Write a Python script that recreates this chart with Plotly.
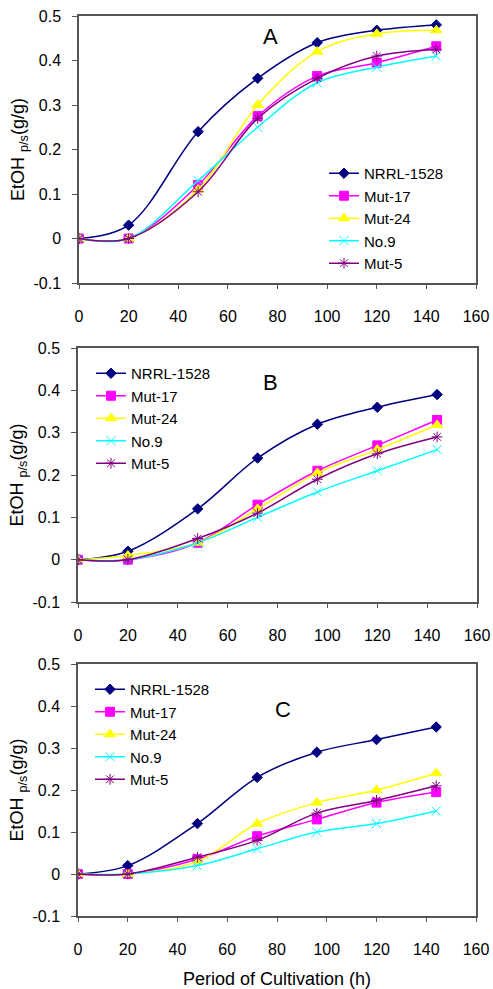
import plotly.graph_objects as go

hours = [0, 20, 48, 72, 96, 120, 144]
strains = ["NRRL-1528", "Mut-17", "Mut-24", "No.9", "Mut-5"]

# EtOH yield per panel, one list per strain (same order as `strains`)
panel_a = [
    [0, 0.03, 0.24, 0.36, 0.44, 0.468, 0.48],
    [0, 0, 0.12, 0.275, 0.365, 0.395, 0.432],
    [0, 0, 0.11, 0.30, 0.42, 0.46, 0.468],
    [0, 0, 0.13, 0.25, 0.35, 0.385, 0.41],
    [0, 0, 0.105, 0.27, 0.36, 0.41, 0.425],
]
panel_b = [
    [0, 0.02, 0.12, 0.24, 0.32, 0.36, 0.39],
    [0, 0, 0.04, 0.13, 0.21, 0.27, 0.33],
    [0, 0.01, 0.04, 0.12, 0.205, 0.26, 0.318],
    [0, 0, 0.04, 0.10, 0.16, 0.21, 0.26],
    [0, 0, 0.05, 0.11, 0.19, 0.25, 0.29],
]
panel_c = [
    [0, 0.02, 0.12, 0.23, 0.29, 0.32, 0.35],
    [0, 0, 0.035, 0.09, 0.13, 0.17, 0.195],
    [0, 0, 0.03, 0.12, 0.17, 0.20, 0.24],
    [0, 0, 0.02, 0.06, 0.10, 0.12, 0.15],
    [0, 0, 0.04, 0.08, 0.145, 0.175, 0.21],
]
panel_labels = ["A", "B", "C"]

y_ticks = [-0.1, 0, 0.1, 0.2, 0.3, 0.4, 0.5]
y_ticktext = ["-0.1", "0", "0.1", "0.2", "0.3", "0.4", "0.5"]
x_ticks = [0, 20, 40, 60, 80, 100, 120, 140, 160]

COLORS = ["#000080", "#FF00FF", "#FFFF00", "#00FFFF", "#800080"]
SYMBOLS = ["diamond", "square", "triangle-up", "x-thin-open", "asterisk-open"]
SIZES = [8, 9, 10, 9, 9]

W, H = 493, 989
FONT = "Liberation Sans, Arial, sans-serif"
FRAME = "#555555"

# pixel boxes of the three plot areas: (left, right, top, bottom)
boxes = [(79, 476, 16, 283), (78, 477, 348, 602), (78, 476, 664, 916)]
legend_pos = [(324, 157), (91, 357), (90, 673)]
label_pos = [(77, 0.454), (77, 0.418), (82.5, 0.392)]

fig = go.Figure()
layout = dict(
    width=W, height=H,
    margin=dict(l=0, r=0, t=0, b=0, autoexpand=False),
    paper_bgcolor="white", plot_bgcolor="white",
    font=dict(family=FONT, size=16, color="black"),
    annotations=[],
)

for i, data in enumerate([panel_a, panel_b, panel_c]):
    n = "" if i == 0 else str(i + 1)
    xa, ya = "x" + n, "y" + n
    leg = "legend" + n
    for s, vals in enumerate(data):
        fig.add_trace(go.Scatter(
            x=hours, y=vals, name=strains[s],
            xaxis=xa, yaxis=ya, legend=leg,
            mode="lines+markers",
            line=dict(color=COLORS[s], width=1.5, shape="spline", smoothing=1),
            marker=dict(symbol=SYMBOLS[s], size=SIZES[s], color=COLORS[s],
                        line=dict(color=COLORS[s], width=1)),
        ))
    l, r, t, b = boxes[i]
    layout["xaxis" + n] = dict(
        domain=[l / W, r / W], anchor=ya, range=[0, 160],
        tickvals=x_ticks, ticks="outside", ticklen=4, tickcolor=FRAME,
        ticklabelstandoff=14, automargin=False,
        showline=True, linecolor=FRAME, linewidth=1.5, mirror=True,
        showgrid=False, zeroline=False,
    )
    layout["yaxis" + n] = dict(
        domain=[1 - b / H, 1 - t / H], anchor=xa, range=[-0.1, 0.5],
        tickvals=y_ticks, ticktext=y_ticktext, automargin=False,
        ticks="outside", ticklen=5, tickcolor=FRAME, ticklabelstandoff=8,
        showline=True, linecolor=FRAME, linewidth=1.5, mirror=True,
        showgrid=False, zeroline=False,
        title=dict(text="EtOH <sub>p/s</sub>(g/g)", font=dict(size=18), standoff=4),
    )
    lx, ly = legend_pos[i]
    layout[leg] = dict(
        x=lx / W, y=1 - ly / H, xanchor="left", yanchor="top",
        bgcolor="rgba(0,0,0,0)", itemwidth=30,
        font=dict(size=15), tracegroupgap=0,
    )
    px, py = label_pos[i]
    layout["annotations"].append(dict(
        x=px, y=py, xref=xa, yref=ya, text=panel_labels[i],
        showarrow=False, font=dict(size=22, color="black"),
    ))

layout["xaxis3"]["title"] = dict(text="Period of Cultivation (h)", font=dict(size=18), standoff=16)

fig.update_layout(**layout)
fig.write_html(
    "out.html",
    config={"displayModeBar": False},
    post_script="document.body.style.margin='0';document.body.style.overflow='hidden';",
)
